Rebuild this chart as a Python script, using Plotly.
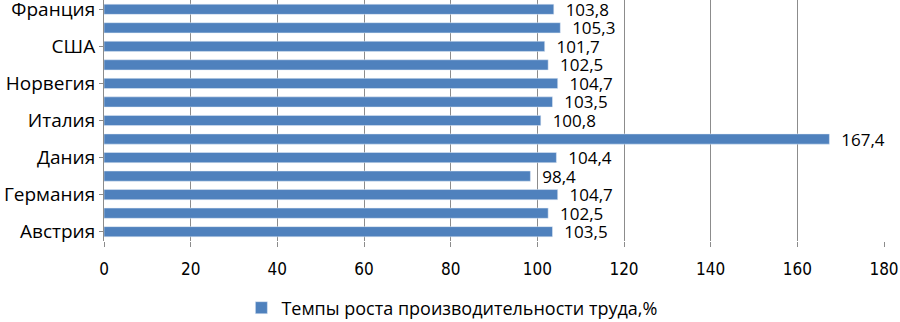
import plotly.graph_objects as go

countries = ["Австрия", "Бельгия", "Германия", "Греция", "Дания", "Ирландия",
             "Италия", "Нидерланды", "Норвегия", "Португалия", "США", "Финляндия", "Франция"]
values = [103.5, 102.5, 104.7, 98.4, 104.4, 167.4, 100.8, 103.5, 104.7, 102.5, 101.7, 105.3, 103.8]
shown_labels = ["Австрия", "Германия", "Дания", "Италия", "Норвегия", "США", "Франция"]
series_name = "Темпы роста производительности труда,%"
x_ticks = [0, 20, 40, 60, 80, 100, 120, 140, 160, 180]

fig = go.Figure()
fig.add_trace(go.Bar(
    y=countries, x=values, orientation="h", name=series_name,
    marker=dict(color="#4F81BD"), width=0.55,
    text=["  " + f"{v:.1f}".replace(".", ",") for v in values],
    textposition="outside", cliponaxis=False, constraintext="none",
    textfont=dict(family="Open Sans, sans-serif", size=17, color="#000000"),
))
fig.update_layout(
    width=900, height=322,
    margin=dict(l=104, r=16, t=0, b=81, autoexpand=False),
    plot_bgcolor="white", paper_bgcolor="white",
    showlegend=True,
    legend=dict(orientation="h", x=0.446, xanchor="center", y=-0.278, yanchor="middle",
                font=dict(family="Open Sans, sans-serif", size=18, color="#000000")),
)
fig.update_xaxes(range=[0, 180], tickvals=x_ticks, showgrid=True, gridcolor="#8C8C8C",
                 gridwidth=1, zeroline=False, showline=False, ticks="outside",
                 ticklen=5, tickcolor="#8C8C8C", automargin=False, ticklabelstandoff=8,
                 tickfont=dict(family="DejaVu Sans Condensed, sans-serif", size=17, color="#000000"))
fig.update_yaxes(type="category", categoryorder="array", categoryarray=countries,
                 tickvals=shown_labels, showline=True, linecolor="#8C8C8C", linewidth=1,
                 ticks="outside", ticklen=4, tickcolor="#8C8C8C", automargin=False,
                 tickfont=dict(family="Open Sans, sans-serif", size=19, color="#000000"))
fig.write_html("out.html", config={"displayModeBar": False},
               post_script="document.body.style.margin='0';")
